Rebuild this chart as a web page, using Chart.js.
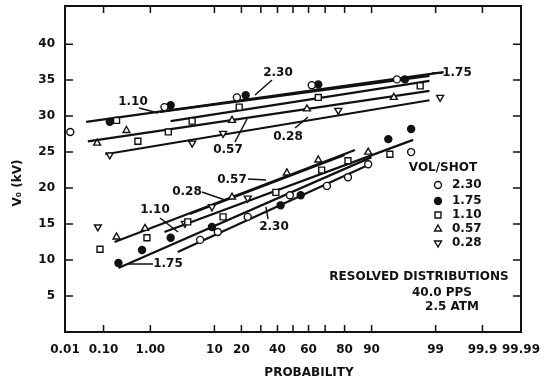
<!DOCTYPE html>
<html>
<head>
<meta charset="utf-8">
<title>Resolved distributions</title>
<script src="https://cdn.jsdelivr.net/npm/chart.js@4.4.0/dist/chart.umd.min.js"></script>
<style>
  html, body { margin: 0; padding: 0; background: #fff; }
  canvas { display: block; }
</style>
</head>
<body>
<canvas id="grafico" width="545" height="388"></canvas>
<script>
// Probability axis (percent) and its labels
const xTickProbs = [0.01, 0.1, 1, 10, 20, 30, 40, 50, 60, 70, 80, 90, 99, 99.9, 99.99];
const xTickLabels = ['0.01', '0.10', '1.00', '10', '20', '', '40', '', '60', '', '80', '90', '99', '99.9', '99.99'];
const yTickValues = [5, 10, 15, 20, 25, 30, 35, 40];

// VOL/SHOT series
const seriesNames = ['2.30', '1.75', '1.10', '0.57', '0.28'];

// measured points: probability (%) and Vo (kV)
const p230 = [0.014, 1.8, 18, 62, 95.5, 6.5, 11, 23, 48, 71, 81.5, 89, 97.3];
const v230 = [27.8, 31.25, 32.6, 34.3, 35.1, 12.8, 13.9, 16.0, 19.0, 20.3, 21.5, 23.3, 25.0];
const p175 = [0.14, 2.3, 22, 66, 96.6, 0.22, 0.69, 2.3, 9.3, 42, 55, 94, 97.3];
const v175 = [29.2, 31.5, 32.9, 34.4, 35.1, 9.6, 11.4, 13.1, 14.6, 17.6, 19.0, 26.8, 28.2];
const p110 = [0.2, 0.57, 2.1, 5, 19, 66, 98.1, 0.082, 0.86, 4.3, 12.7, 39, 68, 81.5, 94.3];
const v110 = [29.4, 26.5, 27.8, 29.3, 31.25, 32.6, 34.2, 11.5, 13.1, 15.3, 16.0, 19.4, 22.5, 23.8, 24.7];
const p057 = [0.07, 0.33, 16, 59, 95, 0.2, 0.79, 16, 46, 66, 89];
const v057 = [26.25, 28.0, 29.4, 31.0, 32.6, 13.2, 14.4, 18.75, 22.1, 23.9, 25.0];
const p028 = [0.14, 5, 12.7, 77, 99.18, 0.073, 3.9, 9.3, 23];
const v028 = [24.6, 26.25, 27.6, 30.8, 32.6, 14.6, 15.1, 17.4, 18.6];

// fitted lines (upper and lower distribution), ends in probability (%) and kV
const fit230P = [[1.5, 98.7], [3.0, 89]];
const fit230V = [[30.6, 35.6], [11.1, 23.2]];
const fit175P = [[0.037, 99.3], [0.22, 90]];
const fit175V = [[29.2, 36.1], [8.9, 24.3]];
const fit110P = [[2.3, 98.7], [1.8, 97.5]];
const fit110V = [[29.3, 34.9], [13.9, 26.7]];
const fit057P = [[0.041, 98.7], [0.18, 84.4]];
const fit057V = [[26.5, 33.5], [12.5, 25.3]];
const fit028P = [[0.11, 98.7], [4.6, 80]];
const fit028V = [[24.7, 32.2], [16.4, 24.6]];

const INK = '#111';
const FONTE = 'bold 12px "DejaVu Sans"';

// inverse of the normal distribution (Acklam), used by the probability axis
function probit(p) {
  const a = [-3.969683028665376e+01, 2.209460984245205e+02, -2.759285104469687e+02, 1.383577518672690e+02, -3.066479806614716e+01, 2.506628277459239e+00];
  const b = [-5.447609879822406e+01, 1.615858368580409e+02, -1.556989798598866e+02, 6.680131188771972e+01, -1.328068155288572e+01];
  const c = [-7.784894002430293e-03, -3.223964580411365e-01, -2.400758277161838e+00, -2.549732539343734e+00, 4.374664141464968e+00, 2.938163982698783e+00];
  const d = [7.784695709041462e-03, 3.224671290700398e-01, 2.445134137142996e+00, 3.754408661907416e+00];
  const pl = 0.02425;
  let q, r;
  if (p < pl) {
    q = Math.sqrt(-2 * Math.log(p));
    return (((((c[0] * q + c[1]) * q + c[2]) * q + c[3]) * q + c[4]) * q + c[5]) / ((((d[0] * q + d[1]) * q + d[2]) * q + d[3]) * q + 1);
  }
  if (p > 1 - pl) {
    q = Math.sqrt(-2 * Math.log(1 - p));
    return -(((((c[0] * q + c[1]) * q + c[2]) * q + c[3]) * q + c[4]) * q + c[5]) / ((((d[0] * q + d[1]) * q + d[2]) * q + d[3]) * q + 1);
  }
  q = p - 0.5;
  r = q * q;
  return (((((a[0] * r + a[1]) * r + a[2]) * r + a[3]) * r + a[4]) * r + a[5]) * q / (((((b[0] * r + b[1]) * r + b[2]) * r + b[3]) * r + b[4]) * r + 1);
}

const series = [
  { p: p230, v: v230, fitP: fit230P, fitV: fit230V },
  { p: p175, v: v175, fitP: fit175P, fitV: fit175V },
  { p: p110, v: v110, fitP: fit110P, fitV: fit110V },
  { p: p057, v: v057, fitP: fit057P, fitV: fit057V },
  { p: p028, v: v028, fitP: fit028P, fitV: fit028V },
];

// marker look for each VOL/SHOT
const marcadores = [
  { estilo: 'circle', rot: 0, raio: 3.5, fundo: '#fff' },
  { estilo: 'circle', rot: 0, raio: 3.5, fundo: INK },
  { estilo: 'rect', rot: 0, raio: 4.2, fundo: '#fff' },
  { estilo: 'triangle', rot: 0, raio: 4, fundo: '#fff' },
  { estilo: 'triangle', rot: 180, raio: 4, fundo: '#fff' },
];

const datasets = [];
series.forEach((s, i) => {
  const m = marcadores[i];
  datasets.push({
    label: seriesNames[i],
    data: s.p.map((p, k) => ({ x: probit(p / 100), y: s.v[k] })),
    showLine: false,
    pointStyle: m.estilo,
    rotation: m.rot,
    pointRadius: m.raio,
    pointBackgroundColor: m.fundo,
    pointBorderColor: INK,
    pointBorderWidth: 1.4,
    order: 0,
  });
  s.fitP.forEach((par, k) => {
    datasets.push({
      label: seriesNames[i] + ' fit',
      data: par.map((p, j) => ({ x: probit(p / 100), y: s.fitV[k][j] })),
      showLine: true,
      borderColor: INK,
      borderWidth: 2.2,
      pointRadius: 0,
      order: 1,
    });
  });
});

// line labels with their leader lines (canvas pixels)
const rotulos = [
  { texto: '1.10', x: 133, y: 102, guia: [139, 108, 158, 113] },
  { texto: '2.30', x: 278, y: 73, guia: [272, 80, 255, 95] },
  { texto: '1.75', x: 457, y: 73, guia: [432, 73, 442, 73] },
  { texto: '0.57', x: 228, y: 150, guia: [235, 142, 247, 119] },
  { texto: '0.28', x: 288, y: 137, guia: [295, 128, 308, 117] },
  { texto: '0.57', x: 232, y: 180, guia: [248, 179, 266, 180] },
  { texto: '0.28', x: 187, y: 192, guia: [202, 192, 225, 200] },
  { texto: '1.10', x: 155, y: 210, guia: [160, 218, 178, 232] },
  { texto: '1.75', x: 168, y: 264, guia: [127, 264, 153, 264] },
  { texto: '2.30', x: 274, y: 227, guia: [268, 219, 266, 207] },
];
const legendaY = [185, 201, 215, 229, 243];

function marcador(ctx, m, x, y) {
  ctx.save();
  ctx.translate(x, y);
  ctx.rotate(m.rot * Math.PI / 180);
  ctx.beginPath();
  if (m.estilo === 'circle') {
    ctx.arc(0, 0, m.raio, 0, Math.PI * 2);
  } else if (m.estilo === 'rect') {
    const s = m.raio * Math.SQRT1_2;
    ctx.rect(-s, -s, 2 * s, 2 * s);
  } else {
    const r = m.raio;
    ctx.moveTo(0, -r);
    ctx.lineTo(r * 0.866, r * 0.5);
    ctx.lineTo(-r * 0.866, r * 0.5);
    ctx.closePath();
  }
  ctx.fillStyle = m.fundo;
  ctx.fill();
  ctx.lineWidth = 1.4;
  ctx.strokeStyle = INK;
  ctx.stroke();
  ctx.restore();
}

// frame with inward ticks, titles, labels and the legend box
const moldura = {
  id: 'moldura',
  afterDraw(chart) {
    const { ctx, chartArea: a, scales: { x, y } } = chart;
    ctx.save();
    ctx.strokeStyle = INK;
    ctx.lineWidth = 2;
    ctx.strokeRect(a.left, a.top, a.right - a.left, a.bottom - a.top);

    ctx.lineWidth = 1.5;
    ctx.beginPath();
    xTickProbs.slice(1, -1).forEach((p) => {
      const px = x.getPixelForValue(probit(p / 100));
      ctx.moveTo(px, a.bottom);
      ctx.lineTo(px, a.bottom - 7);
      ctx.moveTo(px, a.top);
      ctx.lineTo(px, a.top + 7);
    });
    yTickValues.forEach((v) => {
      const py = y.getPixelForValue(v);
      ctx.moveTo(a.left, py);
      ctx.lineTo(a.left + 8, py);
      ctx.moveTo(a.right, py);
      ctx.lineTo(a.right - 8, py);
    });
    ctx.stroke();

    ctx.font = FONTE;
    ctx.fillStyle = INK;
    ctx.textAlign = 'center';
    ctx.textBaseline = 'middle';

    rotulos.forEach((r) => {
      ctx.fillText(r.texto, r.x, r.y);
      ctx.beginPath();
      ctx.moveTo(r.guia[0], r.guia[1]);
      ctx.lineTo(r.guia[2], r.guia[3]);
      ctx.stroke();
    });

    ctx.fillText('PROBABILITY', 309, 373);
    ctx.save();
    ctx.translate(18, 183);
    ctx.rotate(-Math.PI / 2);
    ctx.fillText('V\u2080 (kV)', 0, 0);
    ctx.restore();

    ctx.fillText('VOL/SHOT', 443, 168);
    ctx.fillText('RESOLVED DISTRIBUTIONS', 419, 277);
    ctx.fillText('40.0 PPS', 442, 293);
    ctx.fillText('2.5 ATM', 452, 307);

    ctx.textAlign = 'left';
    seriesNames.forEach((nome, i) => {
      marcador(ctx, marcadores[i], 438, legendaY[i]);
      ctx.fillStyle = INK;
      ctx.fillText(nome, 452, legendaY[i]);
    });
    ctx.restore();
  },
};

Chart.defaults.font.family = '"DejaVu Sans"';
Chart.defaults.font.weight = 'bold';
Chart.defaults.font.size = 12;
Chart.defaults.color = INK;

new Chart(document.getElementById('grafico'), {
  type: 'scatter',
  data: { datasets },
  options: {
    responsive: false,
    animation: false,
    devicePixelRatio: 1,
    layout: { padding: { left: 0, top: 6, right: 24, bottom: 0 } },
    plugins: { legend: { display: false }, tooltip: { enabled: false } },
    scales: {
      x: {
        type: 'linear',
        min: probit(0.0001),
        max: probit(0.9999),
        grid: { display: false },
        border: { display: false },
        afterBuildTicks: (scale) => {
          scale.ticks = xTickProbs.map((p) => ({ value: probit(p / 100) }));
        },
        afterFit: (scale) => {
          scale.height = 56;
          scale.paddingLeft = 0;
          scale.paddingRight = 0;
        },
        ticks: {
          autoSkip: false,
          maxRotation: 0,
          minRotation: 0,
          padding: 3,
          callback: (valor, indice) => xTickLabels[indice],
        },
      },
      y: {
        min: 0,
        max: 45.3,
        grid: { display: false },
        border: { display: false },
        afterBuildTicks: (scale) => {
          scale.ticks = yTickValues.map((v) => ({ value: v }));
        },
        afterFit: (scale) => {
          scale.width = 65;
          scale.paddingTop = 0;
          scale.paddingBottom = 0;
        },
        ticks: { padding: 2, callback: (v) => String(v) },
      },
    },
  },
  plugins: [moldura],
});
</script>
</body>
</html>
